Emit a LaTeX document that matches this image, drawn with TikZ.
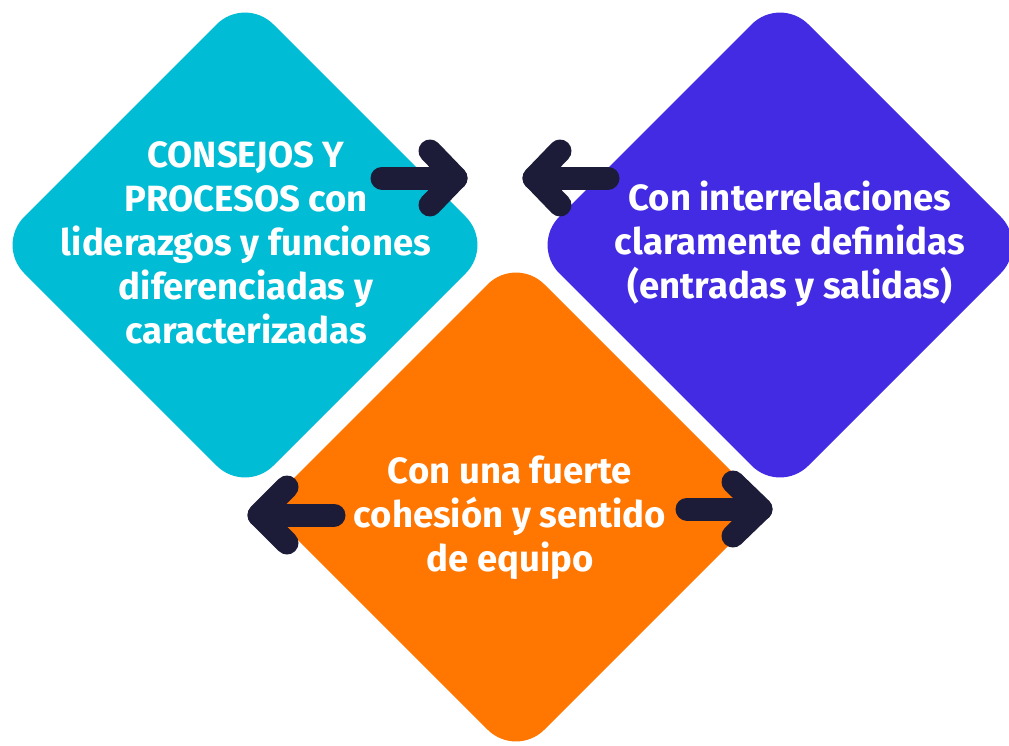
\documentclass[tikz,border=0pt]{standalone}
\usepackage{fontspec}
\setmainfont{Fira Sans}
\definecolor{cyanc}{RGB}{0,188,213}
\definecolor{purplec}{RGB}{66,43,227}
\definecolor{orangec}{RGB}{255,118,0}
\definecolor{navyc}{RGB}{29,28,56}
\tikzset{
  gem/.style={rounded corners=40pt},
  label/.style={text=white, align=center, inner sep=0pt,
    font=\fontsize{36.5}{44}\selectfont\bfseries},
  arrowline/.style={draw=navyc, line width=23pt, line cap=round, line join=round}
}
\begin{document}
\begin{tikzpicture}[x=1pt,y=-1pt]
\useasboundingbox (0,0) rectangle (1009,745);
\clip (0,0) rectangle (1009,745);
% diamonds
\fill[cyanc, gem] (245,-4) -- (494,245) -- (245,494) -- (-4,245) -- cycle;
\fill[purplec, gem] (780,-4) -- (1029,245) -- (780,494) -- (531,245) -- cycle;
\fill[orangec, gem] (516,256) -- (767,507) -- (516,758) -- (265,507) -- cycle;
% texts
\node[label] (tcyan) at (246,243) {CONSEJOS Y\\PROCESOS con\\liderazgos y funciones\\diferenciadas y\\caracterizadas};
\node[label] (tpurple) at (790,244) {Con interrelaciones\\claramente definidas\\(entradas y salidas)};
\node[label] (torange) at (510,518) {Con una fuerte\\cohesión y sentido\\de equipo};
% arrow coordinates
\coordinate (a1s) at (382,178); \coordinate (a1t) at (456,178);
\coordinate (a2s) at (608,178); \coordinate (a2t) at (534,178);
\coordinate (a3s) at (334,515); \coordinate (a3t) at (259,515);
\coordinate (a4s) at (687,509); \coordinate (a4t) at (761,509);
% arrows
\draw[arrowline] (a1s) -- (a1t);
\draw[arrowline] (a1t) ++(-26,-27) -- (a1t) -- ++(-26,27);
\draw[arrowline] (a2s) -- (a2t);
\draw[arrowline] (a2t) ++(26,-27) -- (a2t) -- ++(26,27);
\draw[arrowline] (a3s) -- (a3t);
\draw[arrowline] (a3t) ++(28,-28) -- (a3t) -- ++(28,28);
\draw[arrowline] (a4s) -- (a4t);
\draw[arrowline] (a4t) ++(-28,-27) -- (a4t) -- ++(-28,27);
\end{tikzpicture}
\end{document}
